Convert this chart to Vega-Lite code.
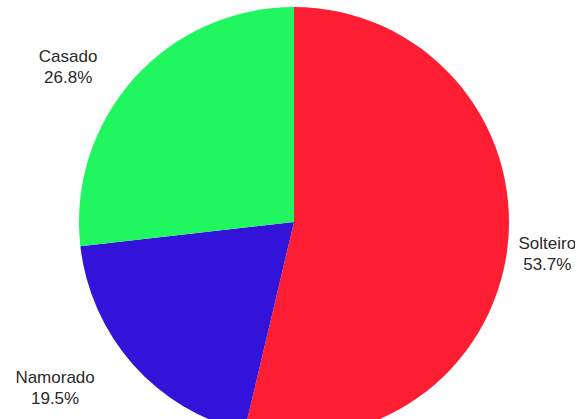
{
  "$schema": "https://vega.github.io/schema/vega-lite/v6.json",
  "width": 562,
  "height": 402,
  "autosize": {"type": "none"},
  "padding": {"left": 13, "right": 0, "top": 21, "bottom": 0},
  "background": "white",
  "config": {"view": {"stroke": null}},
  "data": {
    "values": [
      {"estado": "Solteiro", "pct": 53.7, "ordem": 1},
      {"estado": "Namorado", "pct": 19.5, "ordem": 2},
      {"estado": "Casado", "pct": 26.8, "ordem": 3}
    ]
  },
  "transform": [
    {"calculate": "datum.estado + '\\n' + format(datum.pct, '.1f') + '%'", "as": "rotulo"}
  ],
  "encoding": {
    "theta": {"field": "pct", "type": "quantitative", "stack": true},
    "order": {"field": "ordem", "type": "quantitative"}
  },
  "layer": [
    {
      "mark": {"type": "arc", "outerRadius": 215},
      "encoding": {
        "color": {
          "field": "estado",
          "type": "nominal",
          "scale": {"domain": ["Solteiro", "Namorado", "Casado"], "range": ["#FE1E34", "#3313DA", "#1FF65F"]},
          "legend": null
        }
      }
    },
    {
      "mark": {"type": "text", "radius": 280, "dx": -17, "dy": 21, "lineBreak": "\n", "lineHeight": 21, "font": "Liberation Sans", "fontSize": 17, "color": "#2a2a2a", "align": "center", "baseline": "middle"},
      "encoding": {"text": {"condition": {"test": "datum.estado == 'Casado'", "field": "rotulo"}, "value": ""}}
    },
    {
      "mark": {"type": "text", "radius": 254, "dx": 1, "dy": -7, "lineBreak": "\n", "lineHeight": 21, "font": "Liberation Sans", "fontSize": 17, "color": "#2a2a2a", "align": "center", "baseline": "middle"},
      "encoding": {"text": {"condition": {"test": "datum.estado == 'Solteiro'", "field": "rotulo"}, "value": ""}}
    },
    {
      "mark": {"type": "text", "radius": 290, "dx": -22, "dy": -36, "lineBreak": "\n", "lineHeight": 21, "font": "Liberation Sans", "fontSize": 17, "color": "#2a2a2a", "align": "center", "baseline": "middle"},
      "encoding": {"text": {"condition": {"test": "datum.estado == 'Namorado'", "field": "rotulo"}, "value": ""}}
    }
  ]
}
